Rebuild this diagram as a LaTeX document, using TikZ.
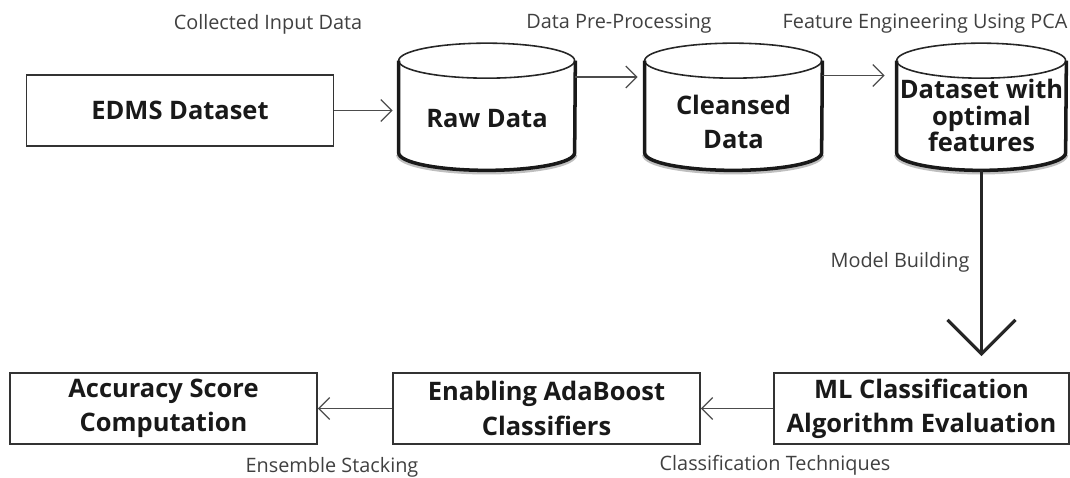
\documentclass[tikz,border=0pt]{standalone}
\usepackage{fontspec}
\setmainfont{Open Sans}
\usetikzlibrary{arrows.meta}
\begin{document}
\begin{tikzpicture}[x=0.02cm,y=-0.02cm,
    box/.style={draw=black!80,rectangle,line width=1pt,minimum width=6.14cm,minimum height=1.42cm,inner sep=0pt,align=center,text=black!90,font=\fontsize{14.5}{19.5}\selectfont\bfseries},
    db/.style={rectangle,minimum width=#1,minimum height=2.18cm,inner sep=0pt,align=center,text=black!90,font=\fontsize{14.5}{19.5}\selectfont\bfseries},
    lbl/.style={text=black!75,font=\fontsize{11.3}{13}\selectfont},
    flow/.style={draw=black!70,line width=0.7pt,-{Straight Barb[length=2.2mm,width=4.4mm]}},
    bigflow/.style={draw=black!85,line width=1.8pt,-{Straight Barb[length=6.8mm,width=13.6mm]}}
  ]
  \useasboundingbox (0,0) rectangle (1070,477);

  \node[box] (edms) at (180,110.5) {EDMS Dataset};
  \node[db=3.52cm] (raw) at (487,115.5) {\raisebox{0pt}[\dimexpr\height+0.12cm\relax]{Raw Data}};
  \node[db=3.54cm] (clean) at (733.5,115.5) {\raisebox{0pt}[\dimexpr\height+0.38cm\relax]{\begin{tabular}{@{}c@{}}Cleansed\\Data\end{tabular}}};
  \node[db=3.38cm,font=\fontsize{14.5}{15}\selectfont\bfseries] (feat) at (981.5,115.5) {Dataset with\\optimal\\features};

  \node[box] (acc) at (163.5,408.5) {Accuracy Score\\Computation};
  \node[box] (enab) at (546.5,408.5) {Enabling AdaBoost\\Classifiers};
  \node[box,minimum width=5.9cm] (ml) at (921.5,408.5) {ML Classification\\Algorithm Evaluation};

  \foreach \n/\r in {raw/1.76cm,clean/1.77cm,feat/1.69cm}{
    \draw[black!25,line width=3pt] ([yshift=0.32cm]\n.south west) arc[start angle=180,end angle=360,x radius=\r,y radius=0.35cm];
    \draw[black!85,line width=0.9pt] (\n.north west) arc[start angle=180,end angle=-180,x radius=\r,y radius=0.35cm];
    \draw[black!90,line width=2pt] (\n.north west) -- ([yshift=0.35cm]\n.south west) arc[start angle=180,end angle=360,x radius=\r,y radius=0.35cm] -- (\n.north east);
  }

  \node[lbl] (lblcollect) at (268,24) {Collected Input Data};
  \node[lbl] (lblprep) at (619,24) {Data Pre-Processing};
  \node[lbl] (lblpca) at (925,24) {Feature Engineering Using PCA};
  \node[lbl] (lblmodel) at (900,262) {Model Building};
  \node[lbl] (lblstack) at (332,467) {Ensemble Stacking};
  \node[lbl] (lbltech) at (775,465) {Classification Techniques};

  \draw[flow,shorten >=0.12cm] (edms.east) -- (edms.east -| raw.west);
  \draw[flow,shorten >=0.14cm] ([yshift=0.77cm]raw.east) -- ([yshift=0.77cm]clean.west);
  \draw[flow,shorten >=0.24cm] ([yshift=0.8cm]clean.east) -- ([yshift=0.8cm]feat.west);
  \draw[bigflow,shorten >=0.32cm] (feat.south) -- (feat.south |- ml.north);
  \draw[flow] (ml.west) -- (enab.east);
  \draw[flow] (enab.west) -- (acc.east);
\end{tikzpicture}
\end{document}
